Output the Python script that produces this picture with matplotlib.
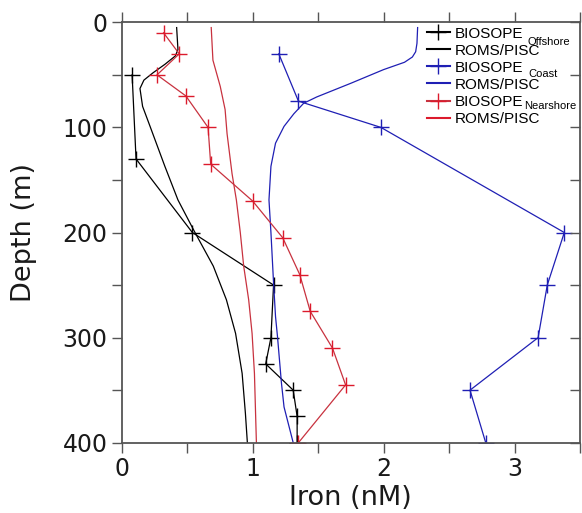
import matplotlib.pyplot as plt
from matplotlib.ticker import MultipleLocator, NullFormatter

# BIOSOPE observations (iron nM, depth m)
off_obs_fe = [0.08, 0.11, 0.54, 1.16, 1.14, 1.10, 1.31, 1.34, 1.34]
off_obs_z = [50, 130, 200, 250, 300, 325, 350, 375, 400]
coast_obs_fe = [1.20, 1.35, 1.98, 3.38, 3.25, 3.18, 2.66, 2.78]
coast_obs_z = [30, 75, 100, 200, 250, 300, 350, 400]
near_obs_fe = [0.32, 0.44, 0.27, 0.49, 0.66, 0.68, 1.00, 1.23, 1.36, 1.44, 1.61, 1.71, 1.35]
near_obs_z = [10, 30, 50, 70, 100, 135, 170, 205, 240, 275, 310, 345, 400]

# ROMS/PISCES model profiles
off_mod_fe = [0.42, 0.43, 0.41, 0.33, 0.24, 0.17, 0.14, 0.16, 0.22, 0.33, 0.43, 0.56, 0.70, 0.80, 0.87, 0.92, 0.945, 0.96]
off_mod_z = [5, 26, 32, 40, 48, 55, 63, 80, 100, 137, 169, 200, 232, 264, 296, 334, 372, 400]
coast_mod_fe = [2.26, 2.255, 2.245, 2.22, 2.16, 2.00, 1.75, 1.49, 1.39, 1.315, 1.24, 1.175, 1.14, 1.125, 1.14, 1.16, 1.175, 1.19, 1.22, 1.24, 1.31]
coast_mod_z = [5, 20, 28, 33, 38, 45, 58, 71, 77, 87, 99, 115, 137, 169, 200, 248, 280, 299, 343, 366, 400]
near_mod_fe = [0.684, 0.697, 0.753, 0.79, 0.805, 0.843, 0.876, 0.906, 0.932, 0.97, 0.996, 1.014, 1.029]
near_mod_z = [5, 36, 61, 83, 106, 144, 169, 200, 232, 264, 296, 334, 400]

BLUE = "#1f1fb4"
RED = "#dc1a2c"
RED_LINE = "#c8323f"

fig = plt.figure(figsize=(5.82, 5.13), dpi=100)
ax = fig.add_axes([0.209, 0.137, 0.7876, 0.8195])

ax.plot(off_obs_fe, off_obs_z, color="black", lw=0.9, marker="+", ms=12, mew=1.0,
        label="BIOSOPE")
ax.plot(off_mod_fe, off_mod_z, color="black", lw=0.9, label="ROMS/PISC")
ax.plot(coast_obs_fe, coast_obs_z, color=BLUE, lw=0.9, marker="+", ms=12, mew=1.0,
        label="BIOSOPE")
ax.plot(coast_mod_fe, coast_mod_z, color=BLUE, lw=0.9, label="ROMS/PISC")
ax.plot(near_mod_fe, near_mod_z, color=RED_LINE, lw=0.9)
ax.plot(near_obs_fe, near_obs_z, color=RED_LINE, lw=0.9, marker="+", ms=12, mew=1.0,
        mec=RED, label="BIOSOPE")
ax.plot([], [], color=RED, lw=0.9, label="ROMS/PISC")

ax.set_xlim(0, 3.5)
ax.set_ylim(400, 0)
ax.xaxis.set_major_locator(MultipleLocator(1))
ax.xaxis.set_minor_locator(MultipleLocator(0.5))
ax.yaxis.set_major_locator(MultipleLocator(100))
ax.yaxis.set_minor_locator(MultipleLocator(50))
ax.tick_params(which="both", direction="out", length=7, width=1, color="#555555",
               top=True, right=False, labelsize=17, pad=3, labelcolor="#1a1a1a")
for s in ax.spines.values():
    s.set_color("#555555")
    s.set_linewidth(1.3)

ax2 = ax.twinx()
ax2.set_ylim(400, 0)
ax2.yaxis.set_major_locator(MultipleLocator(50))
ax2.yaxis.set_major_formatter(NullFormatter())
ax2.tick_params(direction="in", length=7, width=1, color="#555555")
for s in ax2.spines.values():
    s.set_visible(False)

ax.set_xlabel("Iron (nM)", fontsize=19.5, color="#1a1a1a")
ax.set_ylabel("Depth (m)", fontsize=19.5, color="#1a1a1a")
ax.xaxis.set_label_coords(0.5, -0.1)
ax.yaxis.set_label_coords(-0.184, 0.5)

leg = ax.legend(loc="upper left", bbox_to_anchor=(0.733, 0.948),
                bbox_transform=fig.transFigure, frameon=False,
                prop={"family": "Liberation Sans", "size": 11},
                handlelength=1.5, handletextpad=0.35, labelspacing=0.2,
                borderpad=0, borderaxespad=0)
for line in leg.get_lines():
    line.set_linewidth(1.5)

for txt, x, y in [("Offshore", 0.907, 0.918), ("Coast", 0.908, 0.856), ("Nearshore", 0.901, 0.793)]:
    fig.text(x, y, txt, fontsize=8, family="Liberation Sans", va="center", ha="left")

fig.savefig("out.png", dpi=100)
